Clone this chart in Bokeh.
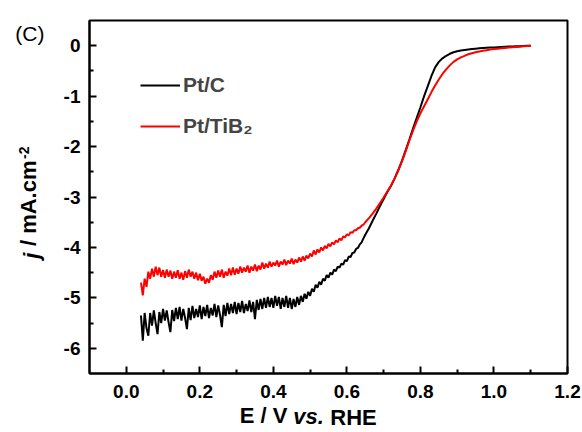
import math
from bokeh.plotting import figure
from bokeh.models import FixedTicker, Legend, LegendItem, Range1d, LinearAxis
from bokeh.embed import file_html
from bokeh.resources import INLINE

# ---------------- data ----------------
# potential grid (V vs RHE): 5 mV steps in the noisy plateau, 10 mV steps in the kinetic region
E_plateau = [round(0.040 + 0.005 * i, 3) for i in range(122)]
E_kinetic = [round(0.65 + 0.01 * i, 2) for i in range(46)]

ptc_plateau = [
    -5.35, -5.85, -5.30, -5.60, -5.75, -5.30, -5.55, -5.25, -5.50, -5.72,
    -5.28, -5.50, -5.22, -5.45, -5.25, -5.48, -5.68, -5.24, -5.46, -5.20,
    -5.42, -5.18, -5.45, -5.22, -5.40, -5.62, -5.20, -5.44, -5.16, -5.40,
    -5.22, -5.38, -5.15, -5.42, -5.18, -5.36, -5.14, -5.40, -5.20, -5.35,
    -5.12, -5.38, -5.15, -5.34, -5.58, -5.14, -5.36, -5.10, -5.32, -5.12,
    -5.30, -5.08, -5.32, -5.10, -5.28, -5.06, -5.30, -5.12, -5.26, -5.05,
    -5.28, -5.08, -5.42, -5.04, -5.24, -5.02, -5.22, -5.00, -5.20, -4.98,
    -5.18, -5.00, -5.20, -4.96, -5.16, -4.98, -5.22, -5.00, -5.18, -4.96,
    -5.20, -5.00, -5.22, -5.02, -5.18, -4.98, -5.14, -4.96, -5.08, -4.92,
    -5.02, -4.88, -4.96, -4.82, -4.88, -4.74, -4.80, -4.68, -4.74, -4.62,
    -4.66, -4.55, -4.60, -4.50, -4.54, -4.44, -4.47, -4.38, -4.40, -4.32,
    -4.34, -4.25, -4.27, -4.18, -4.19, -4.11, -4.10, -4.03, -4.01, -3.94,
    -3.90, -3.82,
]
ptc_kinetic = [
    -3.75, -3.62, -3.47, -3.33, -3.18, -3.04, -2.90, -2.78, -2.63, -2.46,
    -2.28, -2.07, -1.86, -1.64, -1.43, -1.22, -1.00, -0.80, -0.60, -0.43,
    -0.32, -0.25, -0.20, -0.16, -0.13, -0.11, -0.095, -0.083, -0.073, -0.065,
    -0.058, -0.052, -0.047, -0.042, -0.037, -0.033, -0.029, -0.025, -0.021, -0.018,
    -0.015, -0.012, -0.009, -0.006, -0.003, 0.0,
]

ptib_plateau = [
    -4.70, -4.95, -4.62, -4.78, -4.48, -4.62, -4.42, -4.58, -4.38, -4.55,
    -4.40, -4.58, -4.45, -4.60, -4.44, -4.58, -4.46, -4.62, -4.48, -4.60,
    -4.45, -4.62, -4.50, -4.64, -4.47, -4.60, -4.44, -4.58, -4.48, -4.62,
    -4.50, -4.65, -4.52, -4.66, -4.58, -4.72, -4.62, -4.70, -4.55, -4.64,
    -4.48, -4.60, -4.46, -4.58, -4.44, -4.60, -4.48, -4.56, -4.42, -4.55,
    -4.40, -4.54, -4.42, -4.52, -4.38, -4.50, -4.40, -4.48, -4.36, -4.50,
    -4.38, -4.46, -4.34, -4.47, -4.36, -4.44, -4.30, -4.42, -4.32, -4.40,
    -4.28, -4.38, -4.30, -4.36, -4.26, -4.38, -4.28, -4.34, -4.24, -4.35,
    -4.26, -4.32, -4.22, -4.33, -4.24, -4.30, -4.20, -4.28, -4.18, -4.26,
    -4.16, -4.22, -4.12, -4.18, -4.06, -4.14, -4.04, -4.10, -4.00, -4.06,
    -3.97, -4.02, -3.93, -3.98, -3.90, -3.94, -3.86, -3.90, -3.82, -3.86,
    -3.78, -3.80, -3.74, -3.76, -3.70, -3.71, -3.66, -3.66, -3.62, -3.61,
    -3.57, -3.55,
]
ptib_kinetic = [
    -3.50, -3.42, -3.33, -3.23, -3.12, -3.01, -2.89, -2.77, -2.63, -2.47,
    -2.29, -2.09, -1.88, -1.68, -1.50, -1.34, -1.20, -1.06, -0.92, -0.79,
    -0.67, -0.56, -0.47, -0.39, -0.32, -0.27, -0.23, -0.20, -0.17, -0.15,
    -0.13, -0.115, -0.10, -0.088, -0.077, -0.067, -0.058, -0.050, -0.043, -0.037,
    -0.031, -0.025, -0.019, -0.013, -0.007, 0.0,
]

assert len(ptc_plateau) == len(E_plateau) == len(ptib_plateau), (len(ptc_plateau), len(ptib_plateau))
assert len(ptc_kinetic) == len(E_kinetic) == len(ptib_kinetic)

E = E_plateau + E_kinetic
j_ptc = ptc_plateau + ptc_kinetic
j_ptib = ptib_plateau + ptib_kinetic

x_ticks = [0.0, 0.2, 0.4, 0.6, 0.8, 1.0, 1.2]
x_minor = [0.1, 0.3, 0.5, 0.7, 0.9, 1.1]
y_ticks = [0, -1, -2, -3, -4, -5, -6]
y_minor = [-0.5, -1.5, -2.5, -3.5, -4.5, -5.5]
series_names = ["Pt/C", "Pt/TiB\u2082"]
x_title_parts = ["E / V", "vs.", "RHE"]          # "vs." in italics
y_title_parts = ["j", "/ mA.cm", "-2"]            # "j" in italics, "-2" superscript
panel_tag = "(C)"

# ---------------- figure ----------------
FL, FR, FT, FB = 89, 567, 20, 373
XR = (-0.1, 1.2)
YR = (-6.5, 0.5)

p = figure(width=582, height=432, x_range=Range1d(*XR), y_range=Range1d(*YR),
           output_backend="svg", toolbar_location=None,
           min_border_left=FL, min_border_right=582 - FR,
           min_border_top=FT, min_border_bottom=432 - FB)
p.background_fill_color = "white"
p.border_fill_color = "white"
p.grid.visible = False
p.outline_line_color = "black"
p.outline_line_width = 2

FONT = "Liberation Sans"
for ax in (p.xaxis[0], p.yaxis[0]):
    ax.axis_line_width = 2
    ax.axis_line_color = "black"
    ax.major_tick_in = 7
    ax.major_tick_out = 0
    ax.minor_tick_in = 4
    ax.minor_tick_out = 0
    ax.major_tick_line_width = 2
    ax.minor_tick_line_width = 2
    ax.major_label_text_font = FONT
    ax.major_label_text_font_style = "bold"
    ax.major_label_text_font_size = "19px"
    ax.major_label_text_color = "black"

p.xaxis.ticker = FixedTicker(ticks=x_ticks, minor_ticks=x_minor)
p.xaxis.major_label_overrides = {t: f"{t:.1f}" for t in x_ticks}
p.xaxis.major_label_standoff = 11

p.yaxis.ticker = FixedTicker(ticks=y_ticks, minor_ticks=y_minor)
p.yaxis.major_label_overrides = {t: f"{t:d}" for t in y_ticks}
p.yaxis.major_label_standoff = 9


def px2x(px):
    return round(XR[0] + (px - FL) * (XR[1] - XR[0]) / (FR - FL), 4)


def py2y(py):
    return round(YR[1] - (py - FT) * (YR[1] - YR[0]) / (FB - FT), 4)


def text_axis(side, pos, text, size, style, standoff, orientation="horizontal"):
    """An axis with no line/ticks that carries a single text label at a data position."""
    ax = LinearAxis(ticker=FixedTicker(ticks=[pos], minor_ticks=[]),
                    major_label_overrides={pos: text},
                    axis_line_alpha=0, major_tick_in=0, major_tick_out=0,
                    minor_tick_in=0, minor_tick_out=0,
                    major_label_text_font=FONT, major_label_text_font_size=size,
                    major_label_text_font_style=style, major_label_text_color="black",
                    major_label_standoff=standoff,
                    major_label_orientation=orientation)
    p.add_layout(ax, side)
    return ax


# x-axis title "E / V vs. RHE" (pieces centred at canvas x = 263, 308, 353)
text_axis("below", px2x(263), x_title_parts[0], "22px", "bold", 2)
text_axis("below", px2x(308), x_title_parts[1], "22px", "bold italic", -27)
text_axis("below", px2x(353), x_title_parts[2], "22px", "bold", -27)

# y-axis title "j / mA.cm-2" (rotated pieces ending at canvas y = 252, 160, 146)
text_axis("left", py2y(252), y_title_parts[0], "22px", "bold italic", 29, math.pi / 2)
text_axis("left", py2y(160), y_title_parts[1], "22px", "bold", -25, math.pi / 2)
text_axis("left", py2y(146), y_title_parts[2], "14px", "bold", -24, math.pi / 2)

# panel tag in the top-left corner
text_axis("left", py2y(33), panel_tag, "21px", "normal", -44)

r1 = p.line(E, j_ptc, line_color="black", line_width=2)
r2 = p.line(E, j_ptib, line_color="#ff0000", line_width=2)

legend = Legend(items=[LegendItem(label=series_names[0], renderers=[r1]),
                       LegendItem(label=series_names[1], renderers=[r2])],
                location=(51, 235), glyph_width=40, glyph_height=20, spacing=17,
                padding=0, margin=0, border_line_alpha=0, background_fill_alpha=0,
                label_text_font=FONT, label_text_font_style="bold",
                label_text_font_size="21px", label_standoff=3)
p.add_layout(legend)

open("out.html", "w").write(file_html(p, INLINE))
